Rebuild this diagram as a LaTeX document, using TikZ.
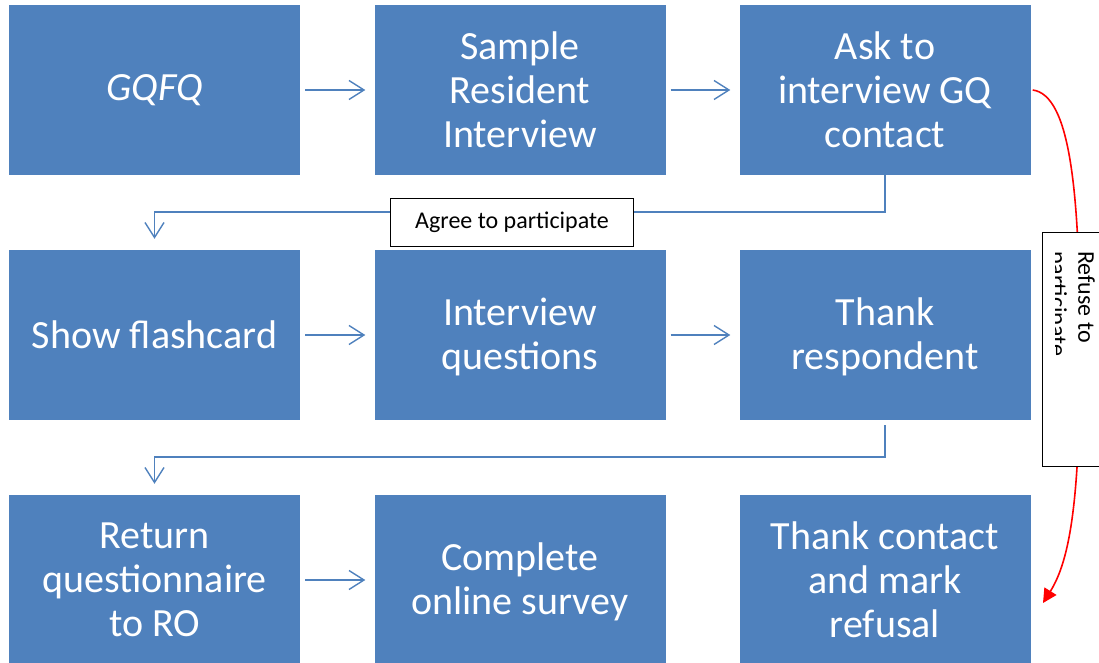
\documentclass[tikz,border=0pt]{standalone}
\usepackage{fontspec}
\setmainfont{Carlito}
\usetikzlibrary{arrows.meta}
\definecolor{boxblue}{HTML}{4F81BD}
\definecolor{lineblue}{HTML}{4F81BD}

\begin{document}
\begin{tikzpicture}[x=1pt, y=-1pt]

\tikzstyle{stepbox} = [rectangle, fill=boxblue, text=white, minimum width=291pt, minimum height=170pt, inner sep=0pt, align=center, font=\fontsize{40}{44}\selectfont]
\tikzstyle{flow} = [lineblue, line width=1.4pt, -{Straight Barb[length=15pt,width=19pt,line width=1.4pt]}]
\tikzstyle{tagbox} = [rectangle, draw=black, fill=white, line width=1pt, font=\fontsize{24}{26}\selectfont]
\tikzstyle{refuse} = [red, line width=1.6pt, -{Triangle[length=14pt,width=14pt]}]

\useasboundingbox (0,0) rectangle (1099,663);

\node[stepbox] (gq) at (154.5,90) {\itshape GQFQ};
\node[stepbox] (samp) at (520,90) {Sample\\Resident\\Interview};
\node[stepbox] (ask) at (885,90) {Ask to\\interview GQ\\contact};

\node[stepbox] (show) at (154.5,335) {Show flashcard};
\node[stepbox, text depth=3pt] (quest) at (520,335) {Interview\\questions};
\node[stepbox, text depth=3pt] (thank) at (885,335) {Thank\\respondent};

\node[stepbox] (ret) at (154.5,580) {Return\\questionnaire\\to RO};
\node[stepbox, text depth=3pt] (online) at (520,580) {Complete\\online survey};
\node[stepbox] (mark) at (885,580) {Thank contact\\and mark\\refusal};

\draw[flow] ([xshift=5pt]gq.east) -- ([xshift=-9pt]samp.west);
\draw[flow] ([xshift=5pt]samp.east) -- ([xshift=-9pt]ask.west);
\draw[flow] ([xshift=5pt]show.east) -- ([xshift=-9pt]quest.west);
\draw[flow] ([xshift=5pt]quest.east) -- ([xshift=-9pt]thank.west);
\draw[flow] ([xshift=5pt]ret.east) -- ([xshift=-9pt]online.west);

% turn down to the next row
\coordinate (bend1) at (885,212);
\coordinate (bend2) at (885,457);
\draw[flow] (ask.south) -- (bend1) -| ([yshift=11pt]show.north);
\draw[flow] ([yshift=-5pt]thank.south) -- (bend2) -| ([yshift=11pt]ret.north);
\node[tagbox, minimum width=243pt, minimum height=48pt] (agree) at (512,222) {Agree to participate};

% refusal branch
\coordinate (refend) at (1043,603);
\draw[refuse] ([xshift=2pt]ask.east) .. controls (1070,95) and (1080,190) .. (1080,350)
  .. controls (1080,500) and (1070,560) .. (refend);
\node[rectangle, draw=black, fill=white, line width=1pt, minimum width=98pt, minimum height=234pt] (refbox) at (1091,349) {};
\begin{scope}
\clip (1055,233) rectangle (1099,465);
\node[rotate=-90, anchor=north west, inner sep=0pt, align=left, font=\fontsize{24}{28}\selectfont] (reftext) at (1095,251) {Refuse to\\participate};
\end{scope}

\end{tikzpicture}
\end{document}
